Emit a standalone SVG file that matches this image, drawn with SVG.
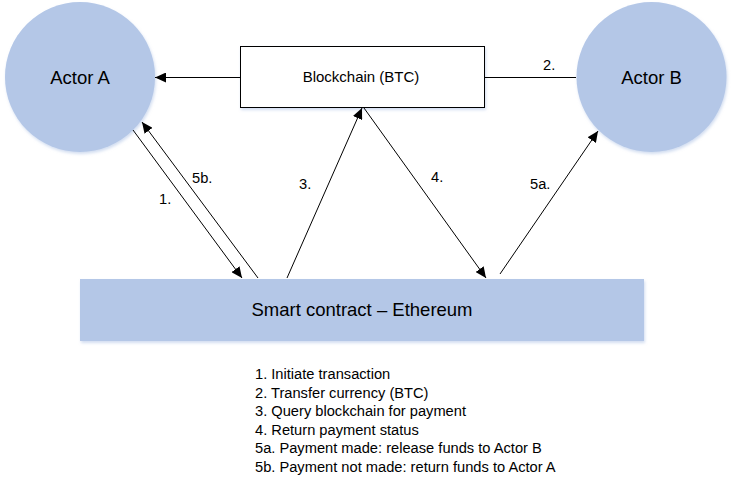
<svg xmlns="http://www.w3.org/2000/svg" width="732" height="487" viewBox="0 0 732 487">
<style>
text{font-family:"Liberation Sans",Arial,sans-serif;fill:#000}
.big{font-size:18.5px}
.mid{font-size:15px}
.sm{font-size:14.67px}
.actor{fill:#B4C7E7}
.conn{stroke:#000;stroke-width:1;fill:none}
</style>
<defs>
<marker id="ah" markerUnits="userSpaceOnUse" markerWidth="12" markerHeight="10" refX="11" refY="5" orient="auto">
<path d="M0,0 L11,5 L0,10 Z" fill="#000"/>
</marker>
<filter id="sh" x="-10%" y="-10%" width="120%" height="130%">
<feGaussianBlur in="SourceAlpha" stdDeviation="1.5"/>
<feOffset dx="1" dy="2" result="b"/>
<feFlood flood-color="#B4C7E7" flood-opacity="0.6"/>
<feComposite in2="b" operator="in"/>
<feMerge><feMergeNode/><feMergeNode in="SourceGraphic"/></feMerge>
</filter>
</defs>
<rect width="732" height="487" fill="#fff"/>
<g id="actorA">
<circle class="actor" cx="80" cy="77" r="75" filter="url(#sh)"/>
<text class="big" x="80" y="83.5" text-anchor="middle">Actor A</text>
</g>
<g id="actorB">
<circle class="actor" cx="651.5" cy="77" r="75" filter="url(#sh)"/>
<text class="big" x="651.5" y="83.5" text-anchor="middle">Actor B</text>
</g>
<g id="blockchain">
<rect x="240.5" y="46.5" width="244" height="61" fill="#fff" stroke="#000" stroke-width="1" filter="url(#sh)"/>
<text class="mid" x="361" y="82" text-anchor="middle">Blockchain (BTC)</text>
</g>
<g id="smartcontract">
<rect x="80" y="279" width="564" height="62" fill="#B4C7E7" filter="url(#sh)"/>
<text class="big" x="362" y="316" text-anchor="middle">Smart contract – Ethereum</text>
</g>
<g id="connectors">
<line class="conn" x1="240" y1="77.5" x2="155" y2="77.5" marker-end="url(#ah)"/>
<line class="conn" x1="485" y1="77.5" x2="576" y2="77.5"/>
<line class="conn" x1="133" y1="130" x2="242" y2="278" marker-end="url(#ah)"/>
<line class="conn" x1="258" y1="278" x2="142" y2="122" marker-end="url(#ah)"/>
<line class="conn" x1="287" y1="278" x2="362" y2="108" marker-end="url(#ah)"/>
<line class="conn" x1="364" y1="108" x2="486" y2="278" marker-end="url(#ah)"/>
<line class="conn" x1="500" y1="274" x2="598" y2="131" marker-end="url(#ah)"/>
<text class="sm" x="543" y="70">2.</text>
<text class="sm" x="159" y="204">1.</text>
<text class="sm" x="192" y="183">5b.</text>
<text class="sm" x="299" y="189">3.</text>
<text class="sm" x="431" y="182">4.</text>
<text class="sm" x="530" y="189">5a.</text>
</g>
<g id="legend" class="sm">
<text class="sm" x="255" y="379">1. Initiate transaction</text>
<text class="sm" x="255" y="397.5">2. Transfer currency (BTC)</text>
<text class="sm" x="255" y="416">3. Query blockchain for payment</text>
<text class="sm" x="255" y="434.5">4. Return payment status</text>
<text class="sm" x="255" y="453">5a. Payment made: release funds to Actor B</text>
<text class="sm" x="255" y="471.5">5b. Payment not made: return funds to Actor A</text>
</g>
</svg>
